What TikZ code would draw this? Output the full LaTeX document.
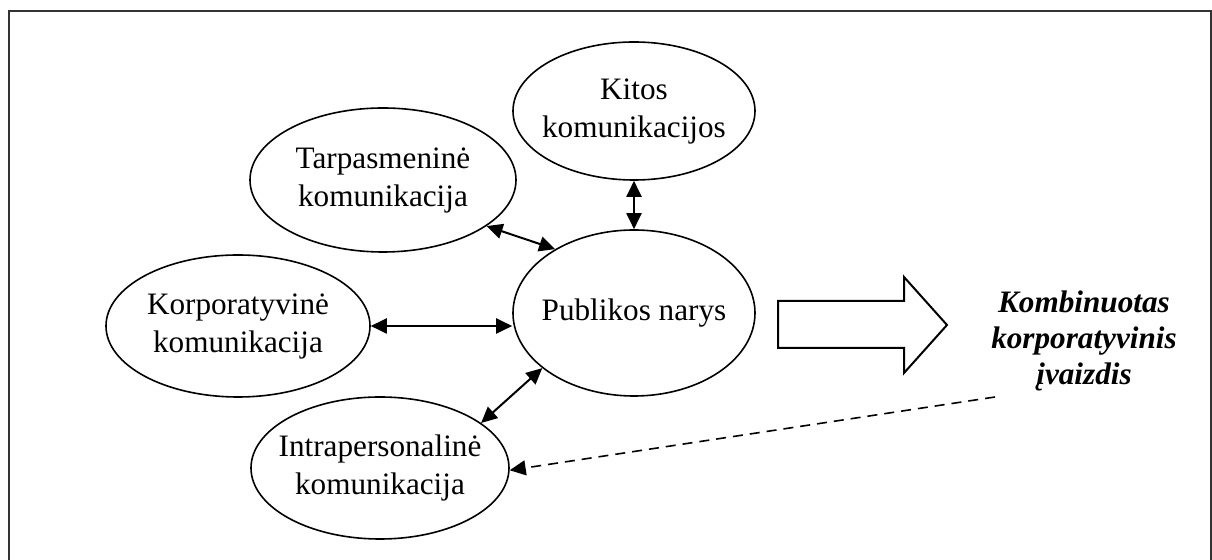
\documentclass[tikz,border=0pt]{standalone}
\usepackage{fontspec}
\setmainfont{Liberation Serif}
\usetikzlibrary{arrows.meta,shapes.geometric}
\begin{document}
\begin{tikzpicture}[x=0.5pt,y=-0.5pt,
  bub/.style={ellipse,draw,line width=0.8pt,inner xsep=-30pt,inner ysep=-15pt,align=center,
    font=\fontsize{15.6pt}{19pt}\selectfont},
  tip/.style={Triangle[length=8pt,width=7.5pt]},
  link/.style={line width=1pt,{Triangle[length=8pt,width=7.5pt]}-{Triangle[length=8pt,width=7.5pt]}},
  back/.style={line width=0.8pt,dash pattern=on 5pt off 3.5pt,-{Triangle[length=8pt,width=7.5pt]}},
  frame/.style={line width=1pt,black!80},
  bigarrow/.style={line width=1pt,draw,fill=white},
  result/.style={align=center,font=\bfseries\itshape\fontsize{15.6pt}{18pt}\selectfont}]
\useasboundingbox (0,0) rectangle (1212,560);
\draw[frame] (9,560) -- (9,11) -- (1211,11) -- (1211,560);

\node[bub,minimum width=121pt,minimum height=69pt] (kitos) at (634,111) {Kitos\\komunikacijos};
\node[bub,minimum width=133pt,minimum height=72pt] (tarp) at (383,180) {Tarpasmeninė\\komunikacija};
\node[bub,minimum width=132pt,minimum height=71pt] (korp) at (238,326) {Korporatyvinė\\komunikacija};
\node[bub,minimum width=129pt,minimum height=71pt] (intra) at (380,468) {Intrapersonalinė\\komunikacija};
\node[bub,minimum width=121pt,minimum height=83pt] (pub) at (634,313) {Publikos narys};

\node[result] (komb) at (1084,341) {Kombinuotas\\korporatyvinis\\įvaizdis};

\draw[link] (kitos.south) -- (pub.north);
\draw[link] (tarp.-24) -- (pub.141);
\draw[link] (korp.east) -- (korp.east -| pub.west);
\draw[link] (intra.24) -- (pub.211);

\coordinate (dstart) at (995,397);
\draw[back] (dstart) -- (intra.-1);

\draw[bigarrow] (778,301) -- (904,301) -- (904,277) -- (947,325) -- (904,373) -- (904,348) -- (778,348) -- cycle;
\end{tikzpicture}
\end{document}
